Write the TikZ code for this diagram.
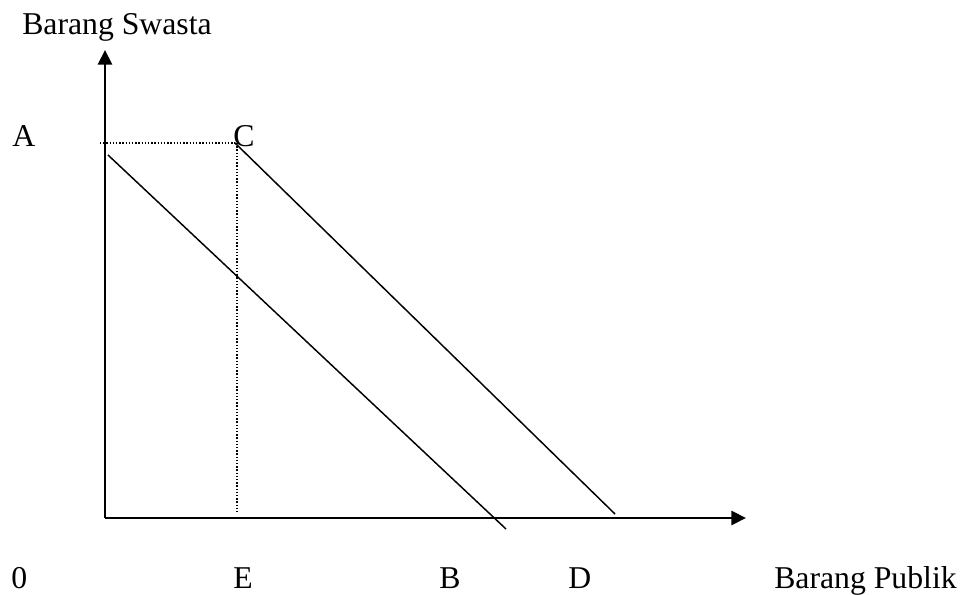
\documentclass[tikz,border=0pt]{standalone}
\usepackage{fontspec}
\setmainfont{Liberation Serif}
\usetikzlibrary{arrows.meta}

\begin{document}
\begin{tikzpicture}[
  x=0.75pt, y=-0.75pt,
  axis/.style={line width=2.2pt, -{Triangle[length=11pt, width=10.5pt]}},
  budget/.style={line width=1.1pt},
  guide/.style={line width=1.1pt, dash pattern=on 1.1pt off 1.3pt},
  lbl/.style={anchor=base west, inner sep=0pt, font=\fontsize{23.8}{28}\selectfont},
]
\useasboundingbox (0,0) rectangle (960,595);

% axes
\coordinate (O)    at (105,518);
\coordinate (ytip) at (105,50);
\coordinate (xtip) at (746,518);
\draw[axis] (O) -- (ytip);
\draw[axis] (O) -- (xtip);

% budget lines
\coordinate (b1s) at (108,155);
\coordinate (b1e) at (506,529);
\coordinate (b2s) at (235,143);
\coordinate (b2e) at (615,514);
\draw[budget] (b1s) -- (b1e);
\draw[budget] (b2s) -- (b2e);

% guides to C
\coordinate (gA) at (100,143);
\coordinate (gC) at (237,143);
\coordinate (gE) at (237,512);
\draw[guide] (gA) -- (b2s);
\draw[guide] (gC) -- (gE);

% labels
\node[lbl] (swasta) at (22,35)   {Barang Swasta};
\node[lbl] (A)      at (12,147)  {A};
\node[lbl] (C)      at (233,147) {C};
\node[lbl] (zero)   at (11,588)  {0};
\node[lbl] (E)      at (233,588) {E};
\node[lbl] (B)      at (439,588) {B};
\node[lbl] (D)      at (568,588) {D};
\node[lbl] (publik) at (774,588) {Barang Publik};
\end{tikzpicture}
\end{document}
